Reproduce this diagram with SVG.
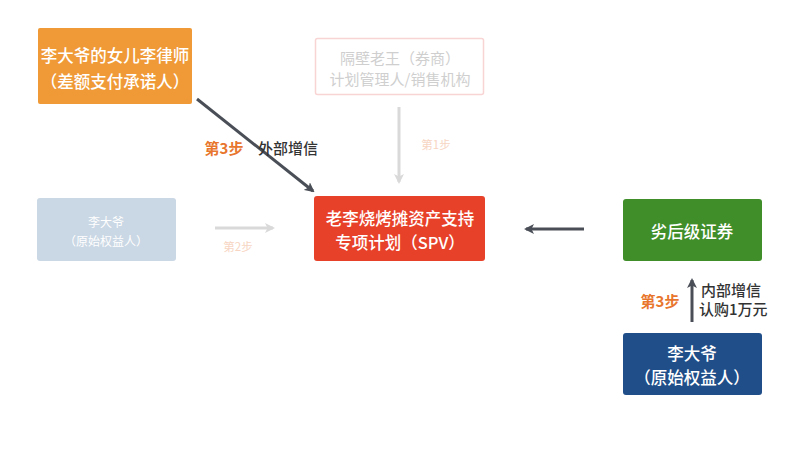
<svg xmlns="http://www.w3.org/2000/svg" width="800" height="449" viewBox="0 0 800 449">
<defs>
<marker id="ad" markerWidth="10" markerHeight="10" refX="8" refY="5" orient="auto" markerUnits="userSpaceOnUse"><path d="M0,0 L10,5 L0,10 L2.5,5 Z" fill="#4a4f57"/></marker>
<marker id="ag" markerWidth="10" markerHeight="10" refX="8" refY="5" orient="auto" markerUnits="userSpaceOnUse"><path d="M0,0 L10,5 L0,10 L2.5,5 Z" fill="#d9d9d9"/></marker>
<style>
text{font-family:"Noto Sans CJK SC","Liberation Sans",sans-serif;text-anchor:middle;dominant-baseline:central}
.w{fill:#fff;font-size:16.5px;font-weight:500}
.ws{fill:#fff;font-size:12px}
.g{fill:#cfcfcf;font-size:15px}
.pk{fill:#f7d5c2;font-size:11.5px}
.or{fill:#e8762d;font-size:15px;font-weight:bold}
.dk{fill:#333;font-size:15px;font-weight:500}
.cd{stroke:#4a4f57;stroke-width:3;fill:none}
.cg{stroke:#d9d9d9;stroke-width:3;fill:none}
</style>
</defs>
<rect width="800" height="449" fill="#fff"/>
<g id="connectors">
<line class="cd" x1="197" y1="99" x2="313" y2="191" marker-end="url(#ad)"/>
<line class="cg" x1="399" y1="107" x2="399" y2="182" marker-end="url(#ag)"/>
<line class="cg" x1="215" y1="228" x2="273" y2="228" marker-end="url(#ag)"/>
<line class="cd" x1="584" y1="229" x2="526" y2="229" marker-end="url(#ad)"/>
<line class="cd" x1="692" y1="322" x2="692" y2="280" marker-end="url(#ad)"/>
<text class="or" x="224" y="147">第3步</text>
<text class="dk" x="288" y="147">外部增信</text>
<text class="pk" x="436" y="144">第1步</text>
<text class="pk" x="238" y="246">第2步</text>
<text class="or" x="660" y="300">第3步</text>
<text class="dk" x="701" y="289" style="text-anchor:start">内部增信</text>
<text class="dk" x="699" y="308" style="text-anchor:start">认购1万元</text>
</g>
<g id="guarantor">
<rect x="38" y="28" width="154" height="76" rx="2" fill="#ef9a37"/>
<text class="w" x="115" y="55">李大爷的女儿李律师</text>
<text class="w" x="115" y="81">（差额支付承诺人）</text>
</g>
<g id="manager">
<rect x="315.5" y="38.5" width="168" height="56" rx="2" fill="#fff" stroke="#f8d4d4" stroke-width="1.5"/>
<text class="g" x="400" y="57">隔壁老王（券商）</text>
<text class="g" x="400" y="78">计划管理人/销售机构</text>
</g>
<g id="spv">
<rect x="314" y="196" width="171" height="65" rx="3" fill="#e8412a"/>
<text class="w" x="400" y="218">老李烧烤摊资产支持</text>
<text class="w" x="400" y="242">专项计划（SPV）</text>
</g>
<g id="originator-pale">
<rect x="37" y="198" width="139" height="63" rx="3" fill="#cad7e4"/>
<text class="ws" x="106" y="221">李大爷</text>
<text class="ws" x="106" y="240">（原始权益人）</text>
</g>
<g id="subordinate">
<rect x="623" y="199" width="139" height="62" rx="3" fill="#3f8e2a"/>
<text class="w" x="692" y="231">劣后级证券</text>
</g>
<g id="originator">
<rect x="623" y="333" width="139" height="62" rx="3" fill="#1f4e89"/>
<text class="w" x="692" y="353">李大爷</text>
<text class="w" x="692" y="377">（原始权益人）</text>
</g>
</svg>
